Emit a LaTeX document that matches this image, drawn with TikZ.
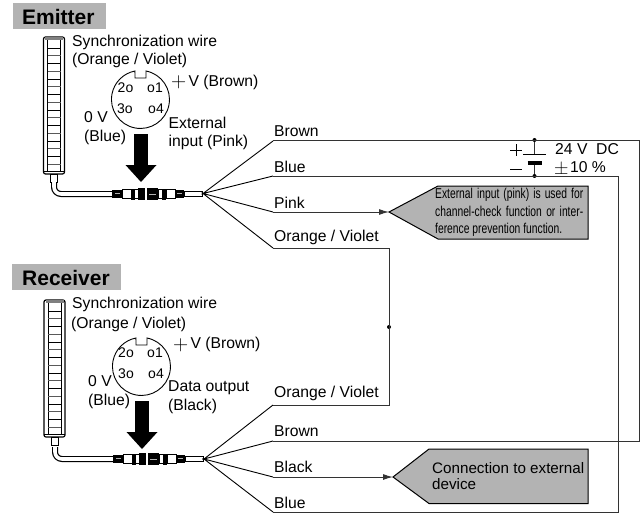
\documentclass[tikz,border=0pt]{standalone}
\usepackage{fontspec}
\setmainfont{Liberation Sans}
\newfontfamily\narrowfont[FakeStretch=0.72]{Liberation Sans}
\newfontfamily\thinfont{Latin Modern Roman}
\usetikzlibrary{arrows.meta}
\definecolor{hdr}{HTML}{B3B3B3}
\definecolor{wirec}{HTML}{333333}
\newcommand{\fs}[1]{\fontsize{#1}{#1}\selectfont}
\newcommand{\bigplus}{\raisebox{-1.6pt}{\thinfont\fs{21}+}\hspace{2.2pt}}
\newcommand{\bigpm}{\raisebox{-1.6pt}{\thinfont\fs{20}±}\hspace{1.5pt}}
\tikzset{
  x=1pt,y=-1pt,
  lbl/.style={anchor=west,inner sep=0pt,font=\fs{15.7},text height=11.5pt,text depth=3pt},
  pin/.style={anchor=center,inner sep=0pt,font=\fs{14}},
  hdrtext/.style={anchor=west,inner sep=0pt,font=\bfseries\fs{21}},
  wire/.style={draw=wirec,line width=1pt,line join=miter},
  fan/.style={draw=black,line width=0.9pt},
  pnt/.style={draw=wirec,line width=1pt,-{Latex[length=10pt,width=6pt]}},
  callout/.style={draw=black,line width=1pt,fill=hdr},
  dotn/.style={circle,fill=black,inner sep=0pt,minimum size=4pt},
  pics/sensor/.style={code={
    \draw[line width=1.2pt,rounded corners=2pt,fill=white] (43.5,37) rectangle (64.5,174);
    \draw[line width=.8pt] (47.5,37) -- (47.5,172) (60.5,37) -- (60.5,172);
    \draw[line width=2.2pt,gray] (45,38.5) -- (63,38.5);
    \draw[line width=.7pt] (43.5,171.5) -- (64.5,171.5);
    \foreach \k in {0,2,...,14} \draw[line width=.9pt] (47.5,{48+7.75*\k}) -- (60.5,{48+7.75*\k});
    \foreach \k in {1,3,...,15} \draw[line width=1.1pt,black!65] (47.5,{48+7.75*\k}) -- (60.5,{48+7.75*\k});
    \draw[line width=1pt,fill=white] (50.5,174) rectangle (57.5,182);
  }},
  pics/plugcable/.style={code={
    \draw[line width=6pt,rounded corners=7pt] (54,182) -- (54,194) -- (114,194);
    \draw[line width=3.6pt,white,rounded corners=7pt] (54,182) -- (54,194) -- (114,194);
    \draw[line width=.8pt,fill=white] (184,191) rectangle (202.5,196.5);
    \fill[black] (112,190) rectangle (122,198);
    \fill[white!70!black] (115,193.4) rectangle (120,194.4);
    \draw[line width=.6pt,fill=white] (122,189.5) rectangle (131,198.5);
    \fill[black] (131,188.5) rectangle (134.5,199.5);
    \draw[line width=.6pt,fill=white] (134.5,189.5) rectangle (138,198.5);
    \fill[black] (138,187.5) rectangle (145,200);
    \fill[black] (147,187.5) rectangle (158,200);
    \draw[white!70!black,line width=.6pt] (149,194) -- (156,194);
    \draw[line width=.6pt,fill=white] (158,189.5) rectangle (162,198.5);
    \fill[black] (162,188.5) rectangle (166,199.5);
    \draw[line width=.6pt,fill=white] (166,189.5) rectangle (175,198.5);
    \fill[black] (175,190) rectangle (184,198);
    \fill[white!70!black] (177,193.4) rectangle (182,194.4);
  }},
  pics/conn/.style={code={
    % round connector face with notch (centre 0,0)
    \draw[line width=.9pt] (5.5,-28.5) arc[start angle=79,end angle=-259,radius=29pt]
      -- (-5.5,-21.5) -- (5.5,-21.5) -- cycle;
    \fill[black] (-6.5,34.5) rectangle (7.5,65.5);
    \fill[black] (-15,65.5) -- (16,65.5) -- (0.5,82.5) -- cycle;
  }}
}
\begin{document}
\begin{tikzpicture}
\useasboundingbox (0,0) rectangle (644,513);
\fill[white] (0,0) rectangle (644,513);

% Emitter header
\fill[hdr] (13,3) rectangle (106,29);
\node[hdrtext] (hE) at (22,16.5) {Emitter};
% Receiver header
\fill[hdr] (12,264) rectangle (121,290);
\node[hdrtext] (hR) at (22,278) {Receiver};

% sensors and cables
\pic at (0,0) {sensor};
\pic at (0,0) {plugcable};
\pic at (0.5,263) {sensor};
\pic at (1,265) {plugcable};

% connector faces and big arrows
\pic at (140.5,99.5) {conn};
\pic at (141.5,366.5) {conn};

% emitter labels
\node[lbl] (e1) at (72,42) {Synchronization wire};
\node[lbl] (e2) at (72,60) {(Orange / Violet)};
\node[lbl] (e3) at (171,82) {\bigplus V (Brown)};
\node[lbl] (e4) at (84,118) {0 V};
\node[lbl] (e5) at (84,137) {(Blue)};
\node[lbl] (e6) at (168.5,124) {External};
\node[lbl] (e7) at (168.5,142) {input (Pink)};
\node[pin] (ep2) at (125.5,88) {2o};
\node[pin] (ep1) at (155,88) {o1};
\node[pin] (ep3) at (125,109) {3o};
\node[pin] (ep4) at (156,109) {o4};

% receiver labels
\node[lbl] (r1) at (72,304.5) {Synchronization wire};
\node[lbl] (r2) at (71,324) {(Orange / Violet)};
\node[lbl] (r3) at (173,344.5) {\bigplus V (Brown)};
\node[lbl] (r4) at (88,382) {0 V};
\node[lbl] (r5) at (88,401) {(Blue)};
\node[lbl] (r6) at (168,387) {Data output};
\node[lbl] (r7) at (168,406) {(Black)};
\node[pin] (rp2) at (126,353) {2o};
\node[pin] (rp1) at (155,353) {o1};
\node[pin] (rp3) at (126,374) {3o};
\node[pin] (rp4) at (156,374) {o4};

% junction coordinates
\coordinate (ef) at (203,193.5);
\coordinate (rf) at (204,459);
\coordinate (eB) at (273,141);
\coordinate (eb) at (273,176);
\coordinate (eP) at (273,212);
\coordinate (eO) at (273,248);
\coordinate (rO) at (273,405);
\coordinate (rB) at (273,441);
\coordinate (rK) at (273,477);
\coordinate (rb) at (273,512);
\node[dotn] (dO) at (389,327) {};
\node[dotn] (dP) at (534.5,140) {};
\node[dotn] (dN) at (534.5,176) {};

% fans
\draw[fan] (eB) -- (ef) -- (eb) (eP) -- (ef) -- (eO);
\draw[fan] (rO) -- (rf) -- (rB) (rK) -- (rf) -- (rb);

% long wires
\draw[wire] (eB) -- (639,141) -- (639,441) -- (rB);
\draw[wire] (eb) -- (618,176) -- (618,512) -- (rb);
\draw[wire] (eO) -- (389,248) -- (389,405) -- (rO);

% callouts
\coordinate (tipP) at (389,212);
\coordinate (tipK) at (393,477);
\draw[callout] (tipP) -- (438,186) -- (588,186) -- (588,239) -- (438,239) -- cycle;
\draw[callout] (tipK) -- (429,449) -- (588,449) -- (588,503.5) -- (429,503.5) -- cycle;
\draw[pnt] (eP) -- (tipP);
\draw[pnt] (rK) -- (tipK);
\node[anchor=west,inner sep=0pt,align=left,font=\narrowfont\fs{14.3}] (tP) at (435,212.5) {%
  \makebox[148pt][s]{External input (pink) is used for}\\[3.4pt]
  \makebox[148pt][s]{channel-check function or inter-}\\[3.4pt]
  ference prevention function.};
\node[anchor=west,inner sep=0pt,align=left,font=\fs{15.2}] (tK) at (432,476) {Connection to external\\[0.6pt]device};

% battery
\coordinate (plateL) at (534.5,154.5);
\coordinate (plateS) at (534.5,163);
\draw[wire] (dP) -- (plateL);
\draw[wire] (plateS) -- (dN);
\draw[line width=1.2pt] (523,154.5) -- (546,154.5);
\draw[line width=4.5pt] (527.5,163) -- (541.5,163);
\draw[line width=.9pt] (510,150.5) -- (522,150.5) (516,144.5) -- (516,156.5);
\draw[line width=.9pt] (510,169.5) -- (522,169.5);
\node[lbl] (v1) at (555,150.5) {24 V\ \ DC};
\node[lbl] (v2) at (554,168.5) {\bigpm 10 \%};

% wire labels
\node[lbl] (lE1) at (274,132) {Brown};
\node[lbl] (lE2) at (274,168) {Blue};
\node[lbl] (lE3) at (274,204) {Pink};
\node[lbl] (lE4) at (274,237) {Orange / Violet};
\node[lbl] (lR1) at (274,393) {Orange / Violet};
\node[lbl] (lR2) at (274,432) {Brown};
\node[lbl] (lR3) at (274,468) {Black};
\node[lbl] (lR4) at (274,504) {Blue};
\end{tikzpicture}
\end{document}
